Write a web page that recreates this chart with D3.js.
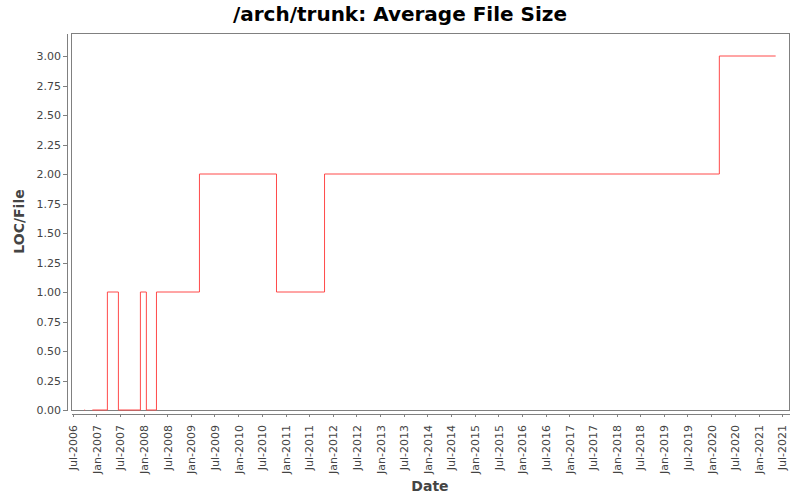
<!DOCTYPE html>
<html>
<head>
<meta charset="utf-8">
<script src="https://cdn.jsdelivr.net/npm/d3@7"></script>
<style>
  body { margin: 0; background: #fff; }
  svg { display: block; font-family: "DejaVu Sans", sans-serif; }
</style>
</head>
<body>
<svg id="chart" width="800" height="500"></svg>
<script>
// Data (step changes)
const dates = ["2006-09-30", "2006-10-06", "2006-10-07", "2006-12-01", "2007-03-27", "2007-06-20",
               "2007-12-07", "2008-01-22", "2008-04-09", "2009-03-07", "2010-10-23",
               "2011-10-29", "2020-03-04", "2021-05-13"];
const values = [0, 0, null, 0, 1, 0, 1, 0, 1, 2, 1, 2, 3, 3];
const yTicks = [0, 0.25, 0.5, 0.75, 1, 1.25, 1.5, 1.75, 2, 2.25, 2.5, 2.75, 3];
const xDomain = ["2006-06-19", "2021-08-24"];
const yDomain = [0, 3.195];
const title = "/arch/trunk: Average File Size";
const xLabel = "Date";
const yLabel = "LOC/File";

const parse = d3.utcParse("%Y-%m-%d");
const data = dates.map((d, i) => ({ date: parse(d), value: values[i] }));

const svg = d3.select("#chart");
const plot = { left: 71, right: 789, top: 33, bottom: 410 };

const x = d3.scaleUtc().domain(xDomain.map(parse)).range([plot.left, plot.right]);
const y = d3.scaleLinear().domain(yDomain).range([plot.bottom, plot.top]);

// Title
svg.append("text")
  .attr("x", 400).attr("y", 21)
  .attr("text-anchor", "middle")
  .attr("font-size", 20).attr("font-weight", "bold")
  .attr("fill", "#000")
  .text(title);

// Plot outline
svg.append("rect")
  .attr("x", plot.left).attr("y", plot.top)
  .attr("width", plot.right - plot.left).attr("height", plot.bottom - plot.top)
  .attr("fill", "#fff").attr("stroke", "#808080").attr("stroke-width", 1)
  .attr("shape-rendering", "crispEdges");

// Y axis
const yAxis = d3.axisLeft(y).tickValues(yTicks).tickFormat(d3.format(".2f"))
  .tickSize(4).tickPadding(2).tickSizeOuter(0);
const gy = svg.append("g").attr("transform", "translate(67,0)").call(yAxis);
gy.select(".domain").attr("stroke", "#808080").attr("shape-rendering", "crispEdges");
gy.selectAll(".tick line").attr("stroke", "#808080").attr("shape-rendering", "crispEdges");
gy.selectAll(".tick text").attr("font-size", 11).attr("fill", "#444")
  .attr("font-family", "DejaVu Sans, sans-serif");

// X axis
const xAxis = d3.axisBottom(x).ticks(d3.utcMonth.every(6)).tickFormat(d3.utcFormat("%b-%Y"))
  .tickSize(3).tickSizeOuter(0);
const gx = svg.append("g").attr("transform", "translate(0,414)").call(xAxis);
gx.select(".domain").attr("stroke", "#808080").attr("shape-rendering", "crispEdges");
gx.selectAll(".tick line").attr("stroke", "#808080").attr("shape-rendering", "crispEdges");
gx.selectAll(".tick text")
  .attr("font-size", 11).attr("fill", "#444")
  .attr("font-family", "DejaVu Sans, sans-serif")
  .attr("text-anchor", "end")
  .attr("transform", "rotate(-90)")
  .attr("x", -11).attr("y", 0).attr("dy", "0.35em");

// Axis labels
svg.append("text")
  .attr("x", (plot.left + plot.right) / 2).attr("y", 491)
  .attr("text-anchor", "middle")
  .attr("font-size", 14).attr("font-weight", "bold").attr("fill", "#444")
  .text(xLabel);
svg.append("text")
  .attr("transform", `translate(24,${(plot.top + plot.bottom) / 2}) rotate(-90)`)
  .attr("text-anchor", "middle")
  .attr("font-size", 14).attr("font-weight", "bold").attr("fill", "#444")
  .text(yLabel);

// Step line
const line = d3.line()
  .defined(d => d.value !== null)
  .x(d => x(d.date))
  .y(d => y(d.value))
  .curve(d3.curveStepAfter);
svg.append("path")
  .datum(data)
  .attr("d", line)
  .attr("fill", "none")
  .attr("stroke", "#ff4a4a")
  .attr("stroke-width", 1);
</script>
</body>
</html>
